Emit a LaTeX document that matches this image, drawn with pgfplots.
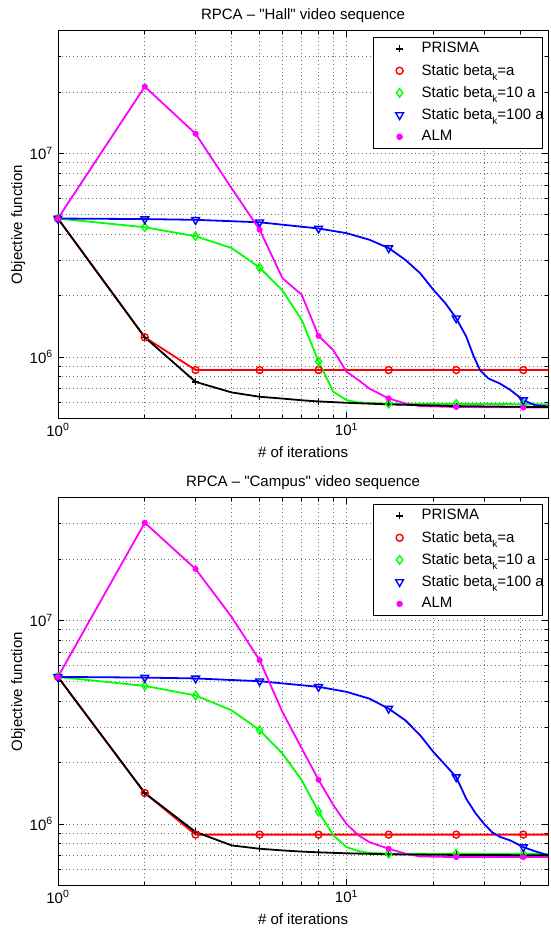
\documentclass[border=0pt]{standalone}
\usepackage{fontspec}
\setmainfont{Liberation Sans}
\usepackage{pgfplots}
\pgfplotsset{compat=1.18}

\definecolor{mred}{RGB}{255,0,0}
\definecolor{mgreen}{RGB}{0,255,0}
\definecolor{mblue}{RGB}{0,0,255}
\definecolor{mmag}{RGB}{255,0,255}

\pgfplotsset{mklegend/.style={legend image code/.code={\path[draw=none,fill=none] (0pt,-1pt) rectangle (42pt,1pt); \draw[##1] plot coordinates {(21pt,0pt)};}}}

\newcommand{\betak}[1]{\makebox[115pt][l]{Static beta\raisebox{-5pt}{\fontsize{10}{10}\selectfont k}=#1}}

\begin{document}
\fontsize{15}{18}\selectfont
\begin{tikzpicture}
\useasboundingbox (0,0) rectangle (550pt,-930pt);

% ---------------- Top: Hall ----------------
\begin{axis}[
    xmode=log, ymode=log,
    scale only axis, width=490.3pt, height=387.4pt,
    at={(57.9pt,-418.3pt)}, anchor=south west,
    xmin=1, xmax=50, ymin=5e5, ymax=4e7,
    xtick={1,10}, xticklabels={10\textsuperscript{0},10\textsuperscript{1}},
    ytick={1e6,1e7}, yticklabels={10\textsuperscript{6},10\textsuperscript{7}},
    minor xtick={2,3,4,5,6,7,8,9,20,30,40},
    minor ytick={6e5,7e5,8e5,9e5,2e6,3e6,4e6,5e6,6e6,7e6,8e6,9e6,2e7,3e7},
    grid=both,
    major grid style={black!55, line width=0.6pt, dash pattern=on 0.8pt off 3pt},
    minor grid style={black!55, line width=0.6pt, dash pattern=on 0.8pt off 3pt},
    tick align=inside,
    major tick length=6pt, minor tick length=3.5pt,
    every tick/.style={black, line width=0.6pt},
    axis line style={black, line width=0.8pt},
    title={RPCA -- \textquotedbl Hall\textquotedbl\ video sequence},
    xlabel={\# of iterations}, ylabel={Objective function},
    xlabel style={at={(axis description cs:0.5,-0.088)}, anchor=center},
    ylabel style={at={(axis description cs:-0.081,0.5)}, anchor=center},
    title style={at={(axis description cs:0.5,1.025)}, anchor=center},
    legend cell align=left,
    legend style={at={(axis description cs:0.9894,0.9853)}, anchor=north east,
      draw=black, line width=0.8pt, inner xsep=5pt, inner ysep=2pt, row sep=2pt,
      nodes={inner xsep=1pt, inner ysep=3.5pt}},
  ]
\addplot[no markers, line width=1.8pt, forget plot, mred] coordinates {(1,4.79e6)(2,1.25e6)(3,8.63e5)(50,8.63e5)};
\addplot[no markers, line width=1.8pt, forget plot, mgreen] coordinates {(1,4.79e6)(2,4.34e6)(3,3.92e6)(4,3.43e6)(5,2.75e6)(6,2.12e6)(7,1.52e6)(8,9.5e5)(9,6.75e5)(10,6.14e5)(11,5.98e5)(14,5.9e5)(24,5.88e5)(50,5.86e5)};
\addplot[no markers, line width=1.8pt, forget plot, mblue] coordinates {(1,4.79e6)(2,4.76e6)(3,4.72e6)(5,4.59e6)(8,4.28e6)(10,4.06e6)(12,3.77e6)(14,3.43e6)(16,3.0e6)(18,2.58e6)(20,2.14e6)(22,1.84e6)(24,1.55e6)(26,1.26e6)(27.5,1.02e6)(29,8.63e5)(31,7.85e5)(34,7.41e5)(37,6.88e5)(41,6.14e5)(45,5.8e5)(50,5.72e5)};
\addplot[no markers, line width=1.8pt, forget plot, mmag] coordinates {(1,4.79e6)(2,2.13e7)(3,1.25e7)(4,6.74e6)(5,4.22e6)(6,2.44e6)(7,2.02e6)(8,1.27e6)(9,1.08e6)(10,8.47e5)(11,7.71e5)(12,7.0e5)(14,6.26e5)(16,5.91e5)(18,5.74e5)(24,5.68e5)(50,5.65e5)};
\addplot[no markers, line width=1.8pt, forget plot, black] coordinates {(1,4.79e6)(2,1.25e6)(3,7.55e5)(4,6.7e5)(5,6.38e5)(6,6.25e5)(7,6.13e5)(8,6.05e5)(10,5.96e5)(12,5.9e5)(14,5.85e5)(20,5.78e5)(24,5.74e5)(30,5.72e5)(41,5.69e5)(50,5.68e5)};
\addplot[only marks, black, mark=+, mark size=3.5pt, mark options={line width=1.4pt}, mklegend] coordinates {(1,4.79e6)(2,1.25e6)(3,7.55e5)(5,6.38e5)(8,6.05e5)(14,5.85e5)(24,5.74e5)(41,5.69e5)};
\addplot[only marks, mred, mark=o, mark size=3.5pt, mark options={line width=1.4pt}, mklegend] coordinates {(1,4.79e6)(2,1.25e6)(3,8.63e5)(5,8.63e5)(8,8.63e5)(14,8.63e5)(24,8.63e5)(41,8.63e5)};
\addplot[only marks, mgreen, mark=diamond, mark size=4.2pt, mark options={line width=1.4pt}, mklegend] coordinates {(1,4.79e6)(2,4.34e6)(3,3.92e6)(5,2.75e6)(8,9.5e5)(14,5.9e5)(24,5.88e5)(41,5.87e5)};
\addplot[only marks, mblue, mark=triangle, mark size=4.5pt, mark options={rotate=180, line width=1.4pt}, mklegend] coordinates {(1,4.79e6)(2,4.76e6)(3,4.72e6)(5,4.59e6)(8,4.28e6)(14,3.43e6)(24,1.55e6)(41,6.14e5)};
\addplot[only marks, mmag, mark=*, mark size=2.8pt, mark options={fill=mmag, draw=mmag}, mklegend] coordinates {(1,4.79e6)(2,2.13e7)(3,1.25e7)(5,4.22e6)(8,1.27e6)(14,6.26e5)(24,5.68e5)(41,5.65e5)};
\legend{PRISMA,\betak{a},\betak{10 a},\betak{100 a},ALM}
\end{axis}

% ---------------- Bottom: Campus ----------------
\begin{axis}[
    xmode=log, ymode=log,
    scale only axis, width=490.3pt, height=387.4pt,
    at={(57.9pt,-885.3pt)}, anchor=south west,
    xmin=1, xmax=50, ymin=5e5, ymax=4e7,
    xtick={1,10}, xticklabels={10\textsuperscript{0},10\textsuperscript{1}},
    ytick={1e6,1e7}, yticklabels={10\textsuperscript{6},10\textsuperscript{7}},
    minor xtick={2,3,4,5,6,7,8,9,20,30,40},
    minor ytick={6e5,7e5,8e5,9e5,2e6,3e6,4e6,5e6,6e6,7e6,8e6,9e6,2e7,3e7},
    grid=both,
    major grid style={black!55, line width=0.6pt, dash pattern=on 0.8pt off 3pt},
    minor grid style={black!55, line width=0.6pt, dash pattern=on 0.8pt off 3pt},
    tick align=inside,
    major tick length=6pt, minor tick length=3.5pt,
    every tick/.style={black, line width=0.6pt},
    axis line style={black, line width=0.8pt},
    title={RPCA -- \textquotedbl Campus\textquotedbl\ video sequence},
    xlabel={\# of iterations}, ylabel={Objective function},
    xlabel style={at={(axis description cs:0.5,-0.088)}, anchor=center},
    ylabel style={at={(axis description cs:-0.081,0.5)}, anchor=center},
    title style={at={(axis description cs:0.5,1.025)}, anchor=center},
    legend cell align=left,
    legend style={at={(axis description cs:0.9894,0.9853)}, anchor=north east,
      draw=black, line width=0.8pt, inner xsep=5pt, inner ysep=2pt, row sep=2pt,
      nodes={inner xsep=1pt, inner ysep=3.5pt}},
  ]
\addplot[no markers, line width=1.8pt, forget plot, mred] coordinates {(1,5.28e6)(2,1.42e6)(3,8.87e5)(50,8.87e5)};
\addplot[no markers, line width=1.8pt, forget plot, mgreen] coordinates {(1,5.28e6)(2,4.77e6)(3,4.28e6)(4,3.62e6)(5,2.89e6)(6,2.22e6)(7,1.64e6)(8,1.15e6)(9,8.8e5)(10,7.71e5)(11,7.36e5)(12,7.22e5)(14,7.15e5)(50,7.12e5)};
\addplot[no markers, line width=1.8pt, forget plot, mblue] coordinates {(1,5.28e6)(2,5.24e6)(3,5.19e6)(5,5.03e6)(8,4.72e6)(10,4.46e6)(12,4.13e6)(14,3.69e6)(16,3.23e6)(18,2.73e6)(20,2.26e6)(22,1.95e6)(24,1.70e6)(26,1.33e6)(28,1.13e6)(30,1.0e6)(32,9.1e5)(34,8.65e5)(37,8.3e5)(41,7.7e5)(45,7.35e5)(50,7.02e5)};
\addplot[no markers, line width=1.8pt, forget plot, mmag] coordinates {(1,5.28e6)(2,3.02e7)(3,1.79e7)(4,1.04e7)(5,6.38e6)(6,3.55e6)(7,2.35e6)(8,1.65e6)(9,1.24e6)(10,1.0e6)(11,8.8e5)(12,8.15e5)(14,7.56e5)(16,7.15e5)(18,6.93e5)(24,6.88e5)(50,6.88e5)};
\addplot[no markers, line width=1.8pt, forget plot, black] coordinates {(1,5.28e6)(2,1.42e6)(3,9.14e5)(4,7.85e5)(5,7.56e5)(6,7.42e5)(7,7.32e5)(8,7.26e5)(10,7.18e5)(14,7.1e5)(24,7.05e5)(50,7.02e5)};
\addplot[only marks, black, mark=+, mark size=3.5pt, mark options={line width=1.4pt}, mklegend] coordinates {(1,5.28e6)(2,1.42e6)(3,9.14e5)(5,7.56e5)(8,7.26e5)(14,7.1e5)(24,7.05e5)(41,7.03e5)};
\addplot[only marks, mred, mark=o, mark size=3.5pt, mark options={line width=1.4pt}, mklegend] coordinates {(1,5.28e6)(2,1.42e6)(3,8.87e5)(5,8.87e5)(8,8.87e5)(14,8.87e5)(24,8.87e5)(41,8.87e5)};
\addplot[only marks, mgreen, mark=diamond, mark size=4.2pt, mark options={line width=1.4pt}, mklegend] coordinates {(1,5.28e6)(2,4.77e6)(3,4.28e6)(5,2.89e6)(8,1.15e6)(14,7.15e5)(24,7.14e5)(41,7.13e5)};
\addplot[only marks, mblue, mark=triangle, mark size=4.5pt, mark options={rotate=180, line width=1.4pt}, mklegend] coordinates {(1,5.28e6)(2,5.24e6)(3,5.19e6)(5,5.03e6)(8,4.72e6)(14,3.69e6)(24,1.70e6)(41,7.7e5)};
\addplot[only marks, mmag, mark=*, mark size=2.8pt, mark options={fill=mmag, draw=mmag}, mklegend] coordinates {(1,5.28e6)(2,3.02e7)(3,1.79e7)(5,6.38e6)(8,1.65e6)(14,7.56e5)(24,6.88e5)(41,6.88e5)};
\legend{PRISMA,\betak{a},\betak{10 a},\betak{100 a},ALM}
\end{axis}
\end{tikzpicture}
\end{document}
